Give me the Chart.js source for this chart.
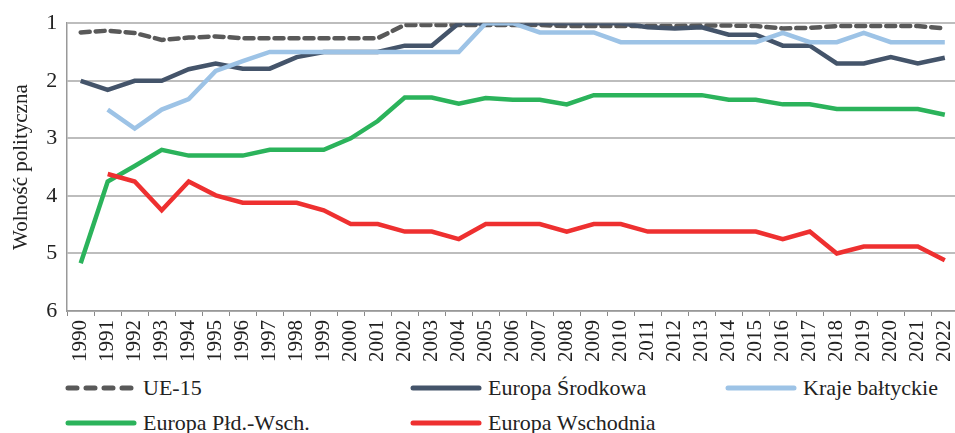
<!DOCTYPE html>
<html>
<head>
<meta charset="utf-8">
<script src="https://cdn.jsdelivr.net/npm/chart.js@4.4.1/dist/chart.umd.min.js"></script>
<style>
  body { margin: 0; background: #fff; overflow: hidden; }
  #wrap { position: relative; width: 974px; height: 366px; }
  #legend { position: relative; width: 955px; height: 67px; font-family: "Liberation Serif", serif; font-size: 22px; color: #222; }
  .item { position: absolute; display: flex; align-items: center; height: 26px; }
  .item svg { margin-right: 6px; }
</style>
</head>
<body>
<div id="wrap"><canvas id="polChart"></canvas></div>
<div id="legend"></div>
<script>
const years = [1990,1991,1992,1993,1994,1995,1996,1997,1998,1999,2000,2001,2002,2003,2004,2005,2006,2007,2008,2009,2010,2011,2012,2013,2014,2015,2016,2017,2018,2019,2020,2021,2022];

const ue15     = [1.16,1.13,1.17,1.29,1.25,1.23,1.26,1.26,1.26,1.26,1.26,1.26,1.03,1.03,1.03,1.03,1.03,1.03,1.05,1.05,1.05,1.05,1.05,1.04,1.04,1.05,1.09,1.08,1.05,1.05,1.05,1.05,1.09];
const srodkowa = [2.0,2.16,2.0,2.0,1.8,1.7,1.79,1.79,1.59,1.5,1.5,1.5,1.39,1.39,1.0,1.0,1.0,1.0,1.0,1.0,1.0,1.07,1.09,1.07,1.2,1.2,1.39,1.39,1.7,1.7,1.59,1.7,1.6];
const baltyckie = [null,2.5,2.83,2.5,2.32,1.83,1.66,1.5,1.5,1.5,1.5,1.5,1.5,1.5,1.5,1.0,1.0,1.16,1.16,1.16,1.33,1.33,1.33,1.33,1.33,1.33,1.17,1.33,1.33,1.17,1.33,1.33,1.33];
const pldWsch  = [5.17,3.75,3.48,3.2,3.3,3.3,3.3,3.2,3.2,3.2,3.0,2.7,2.29,2.29,2.4,2.3,2.33,2.33,2.41,2.25,2.25,2.25,2.25,2.25,2.33,2.33,2.41,2.41,2.49,2.49,2.49,2.49,2.59];
const wschodnia = [null,3.62,3.75,4.25,3.75,3.99,4.12,4.12,4.12,4.25,4.49,4.49,4.62,4.62,4.75,4.49,4.49,4.49,4.62,4.49,4.49,4.62,4.62,4.62,4.62,4.62,4.75,4.62,5.0,4.88,4.88,4.88,5.12];

const seriesNames = ["UE-15", "Europa Środkowa", "Kraje bałtyckie", "Europa Płd.-Wsch.", "Europa Wschodnia"];
const seriesColors = ["#595959", "#44546a", "#9dc3e6", "#2bb35b", "#ee3030"];
const seriesData = [ue15, srodkowa, baltyckie, pldWsch, wschodnia];

const serif = "'Liberation Serif', serif";

const datasets = seriesData.map((d, i) => ({
    label: seriesNames[i],
    data: d,
    borderColor: seriesColors[i],
    backgroundColor: seriesColors[i],
    borderWidth: 4.5,
    borderDash: i === 0 ? [9, 6] : [],
    borderCapStyle: i === 0 ? "round" : "butt",
    pointRadius: 0,
    tension: 0,
    spanGaps: false,
    order: 5 - i
}));

new Chart(document.getElementById("polChart"), {
    type: "line",
    data: { labels: years, datasets },
    options: {
        responsive: true,
        maintainAspectRatio: false,
        animation: false,
        layout: { padding: { top: 6, right: 0, left: 7, bottom: 0 } },
        plugins: { legend: { display: false }, tooltip: { enabled: false } },
        scales: {
            x: {
                offset: true,
                grid: { offset: true, drawOnChartArea: false, drawTicks: true, tickLength: 5, color: "#888" },
                border: { color: "#999", width: 1.5 },
                ticks: { minRotation: 90, maxRotation: 90, autoSkip: false, color: "#222", font: { family: serif, size: 21 }, padding: 4 }
            },
            y: {
                reverse: true,
                min: 1,
                max: 6,
                ticks: { stepSize: 1, color: "#222", font: { family: serif, size: 22 }, padding: 10 },
                grid: { color: "#bdbdbd", lineWidth: 2, drawTicks: false },
                border: { color: "#999", width: 1.5 },
                title: { display: true, text: "Wolność polityczna", color: "#222", font: { family: serif, size: 21 }, padding: 2 }
            }
        }
    }
});

// legend laid out as in the original: 3 columns, 2 rows
const legendPos = [[65, 9], [410, 9], [725, 9], [65, 44], [410, 44]];
const legend = document.getElementById("legend");
seriesNames.forEach((name, i) => {
    const item = document.createElement("div");
    item.className = "item";
    item.style.left = legendPos[i][0] + "px";
    item.style.top = legendPos[i][1] + "px";
    const dash = i === 0 ? ' stroke-dasharray="9 9"' : "";
    item.innerHTML = '<svg width="72" height="10"><line x1="3" y1="5" x2="69" y2="5" stroke="' +
        seriesColors[i] + '" stroke-width="5" stroke-linecap="round"' + dash + '/></svg>';
    const t = document.createElement("span");
    t.textContent = name;
    item.appendChild(t);
    legend.appendChild(item);
});
</script>
</body>
</html>
